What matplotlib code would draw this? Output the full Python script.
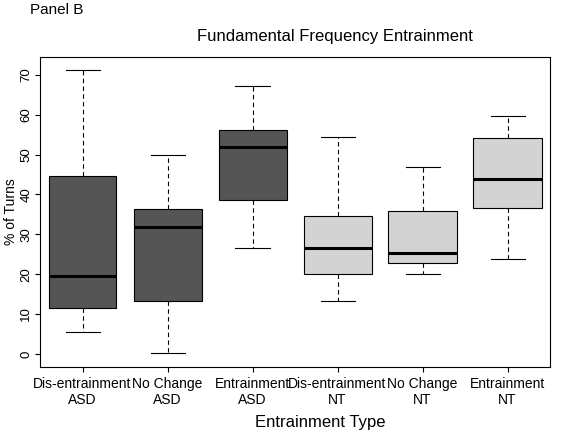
import matplotlib
matplotlib.use("Agg")
import matplotlib.pyplot as plt

labels = ["Dis-entrainment\nASD", "No Change\nASD", "Entrainment\nASD",
          "Dis-entrainment\nNT", "No Change\nNT", "Entrainment\nNT"]
whislo = [5.5, 0.2, 26.6, 13.3, 20.1, 23.8]
q1 = [11.5, 13.3, 38.6, 20.1, 22.8, 36.6]
med = [19.6, 31.9, 51.9, 26.6, 25.3, 43.9]
q3 = [44.7, 36.4, 56.2, 34.6, 35.9, 54.2]
whishi = [71.3, 49.9, 67.2, 54.4, 46.9, 59.7]
colors = ["#555555"] * 3 + ["#d3d3d3"] * 3

plt.rcParams['font.family'] = ['Liberation Sans', 'DejaVu Sans']
fig = plt.figure(figsize=(5.61, 4.32), dpi=100)
ax = fig.add_axes([40/561, 1-367/432, 510/561, 310/432])
stats = [dict(whislo=a, q1=b, med=c, q3=d, whishi=e, fliers=[])
         for a, b, c, d, e in zip(whislo, q1, med, q3, whishi)]
bp = ax.bxp(stats, positions=range(1, 7), widths=0.8, patch_artist=True,
            showfliers=False,
            boxprops=dict(edgecolor='black', linewidth=0.8),
            medianprops=dict(color='black', linewidth=2.2),
            whiskerprops=dict(linestyle=(0, (4, 3)), linewidth=0.8),
            capprops=dict(linewidth=0.8), capwidths=0.4)
for p, c in zip(bp['boxes'], colors):
    p.set_facecolor(c)
ax.set_xlim(0.5, 6.5)
ax.set_ylim(-3.3, 74.5)
ax.set_yticks(range(0, 71, 10))
ax.tick_params(axis='y', labelrotation=90, labelsize=9.5, pad=2)
for t in ax.get_yticklabels():
    t.set_va('center')
ax.set_xticks(range(1, 7))
ax.set_xticklabels(labels, fontsize=10)
ax.set_ylabel("% of Turns", fontsize=10, labelpad=2)
fig.text(0.597, 1-37/432, "Fundamental Frequency Entrainment", ha='center', va='center', fontsize=12)
fig.text(30/561, 1-10/432, "Panel B", ha='left', va='center', fontsize=11)
fig.text(320/561, 1-422/432, "Entrainment Type", ha='center', va='center', fontsize=12)
fig.savefig("out.png", dpi=100)
